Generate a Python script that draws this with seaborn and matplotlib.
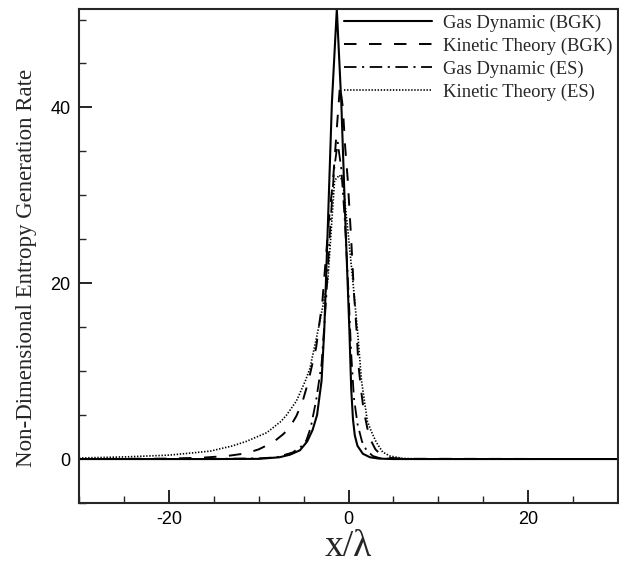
import matplotlib
matplotlib.use("Agg")
import matplotlib.pyplot as plt
import seaborn as sns
from matplotlib.ticker import MultipleLocator

# ---- data ----
gd_bgk_x = [-30, -15, -10, -7.7, -6.5, -5.4, -4.6, -4.0, -3.5, -3.0, -2.7, -2.35, -1.85, -1.3,
            -0.8, -0.35, 0.1, 0.3, 0.5, 0.7, 1.0, 1.6, 2.4, 3.4, 5, 30]
gd_bgk_y = [0, 0, 0.02, 0.2, 0.5, 1.0, 2.0, 3.3, 5.0, 8.9, 14.6, 25, 40.5, 51.2,
            40.5, 27, 14.6, 8.0, 4.5, 2.7, 1.5, 0.6, 0.2, 0.05, 0, 0]

kt_bgk_x = [-30, -20, -16.2, -13.5, -11.4, -10, -8.4, -7.3, -6.6, -5.8, -5.1, -4.5, -3.6, -2.9,
            -2.2, -1.7, -1.4, -0.95, -0.63, -0.37, -0.1, 0.3, 0.6, 0.9, 1.1, 1.4, 1.7, 2.1,
            2.5, 3.0, 3.5, 4.5, 6, 30]
kt_bgk_y = [0, 0.05, 0.16, 0.35, 0.65, 1.1, 1.9, 2.8, 3.5, 4.9, 6.6, 8.7, 12.7, 18,
            27, 32, 36.2, 42.5, 40, 35.5, 32, 25, 19, 14.6, 10.8, 7.8, 5.5, 3.5,
            2.1, 1.1, 0.6, 0.15, 0.03, 0]

gd_es_x = [-30, -15, -10, -8, -6.2, -5.3, -4.7, -4.2, -3.6, -3.0, -2.5, -2.0, -1.6, -1.2,
           -0.8, -0.4, 0.0, 0.3, 0.6, 1.0, 1.5, 2.0, 2.7, 3.5, 5, 30]
gd_es_y = [0, 0.02, 0.08, 0.2, 0.76, 1.4, 2.1, 3.6, 6.7, 10.8, 18, 27, 33, 36,
           33, 27, 19, 12, 7, 4, 2.0, 1.0, 0.35, 0.1, 0.02, 0]

kt_es_x = [-30, -24.7, -19.9, -15.4, -12.9, -11.4, -9.1, -7.5, -6.9, -5.8, -4.8, -4.3, -3.4,
           -2.3, -1.55, -1.0, -0.63, -0.07, 0.48, 1.0, 1.45, 2.1, 2.6, 3.1, 3.8, 4.6, 6, 8, 30]
kt_es_y = [0.12, 0.25, 0.45, 0.9, 1.5, 2.0, 3.0, 4.3, 5.0, 6.6, 8.9, 10.3, 14.6,
           20.3, 31.7, 32.3, 31.5, 26, 20.3, 14.6, 8.9, 4.3, 3.0, 1.9, 0.8, 0.35, 0.08, 0.01, 0]

labels = ["Gas Dynamic (BGK)", "Kinetic Theory (BGK)", "Gas Dynamic (ES)", "Kinetic Theory (ES)"]
x_ticks = [-20, 0, 20]
y_ticks = [0, 20, 40]

# ---- style ----
sns.set_style("ticks")
plt.rcParams["font.family"] = ["Liberation Sans", "DejaVu Sans"]
plt.rcParams["lines.scale_dashes"] = False
plt.rcParams["axes.unicode_minus"] = False

fig = plt.figure(figsize=(6.19, 5.65), dpi=100)
ax = fig.add_axes([79 / 619, 1 - 503 / 565, (618 - 79) / 619, (503 - 9) / 565])

series = [
    (gd_bgk_x, gd_bgk_y, labels[0], "-", 1.5),
    (kt_bgk_x, kt_bgk_y, labels[1], (0, (9, 9)), 1.4),
    (gd_es_x, gd_es_y, labels[2], (0, (9, 4, 1.5, 4)), 1.3),
    (kt_es_x, kt_es_y, labels[3], (0, (1, 1.2)), 1.2),
]
for xs, ys, lab, ls, lw in series:
    sns.lineplot(x=xs, y=ys, ax=ax, sort=False, color="black", linestyle=ls,
                 linewidth=lw, label=lab, estimator=None)

ax.set_xlim(-30, 30)
ax.set_ylim(-5, 51.2)
ax.set_xticks(x_ticks)
ax.set_yticks(y_ticks)
ax.xaxis.set_minor_locator(MultipleLocator(5))
ax.yaxis.set_minor_locator(MultipleLocator(5))
ax.tick_params(which="major", direction="in", length=9.5, width=1.2, labelsize=13,
               pad=6, top=False, right=False, colors="black")
ax.tick_params(which="minor", direction="in", length=5, width=1.0, top=False, right=False)
for sp in ax.spines.values():
    sp.set_linewidth(1.5)
    sp.set_visible(True)

serif = ["Liberation Serif", "DejaVu Serif"]
ax.set_xlabel("x/λ", fontsize=27, family=serif, labelpad=1)
ax.set_ylabel("Non-Dimensional Entropy Generation Rate", fontsize=16.5, family=serif)
ax.yaxis.set_label_coords(-0.078, 0.476)

leg = ax.legend(loc="upper right", frameon=False, prop={"family": serif, "size": 13.4},
                handlelength=4.7, handletextpad=0.6, labelspacing=0.3,
                borderaxespad=0.1, borderpad=0.2)

fig.savefig("out.png", dpi=100)
